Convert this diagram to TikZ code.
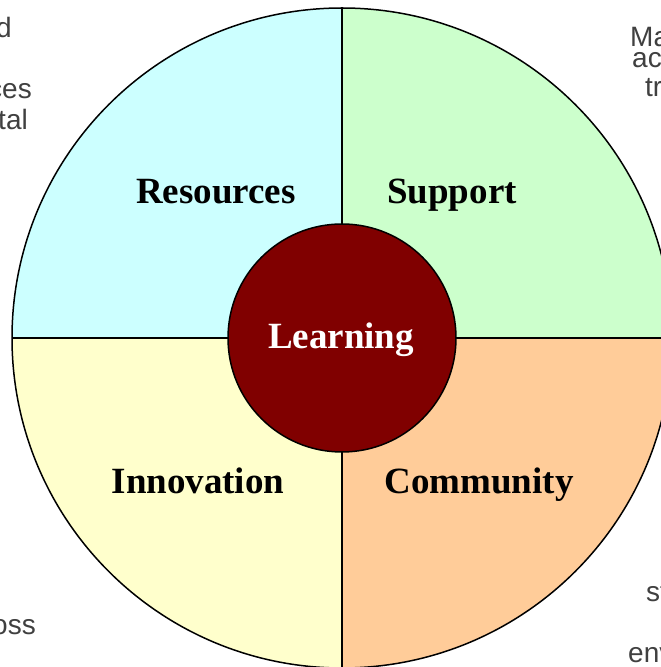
\documentclass[tikz,border=0pt]{standalone}
\usepackage{fontspec}
\setmainfont{Liberation Serif}
\newfontfamily\notefont{Liberation Sans}
\definecolor{resc}{HTML}{CCFFFF}
\definecolor{supc}{HTML}{CCFFCC}
\definecolor{innc}{HTML}{FFFFCC}
\definecolor{comc}{HTML}{FFCC99}
\definecolor{lrnc}{HTML}{800000}
\definecolor{notec}{HTML}{404040}
\begin{document}
\begin{tikzpicture}[x=1pt,y=1pt,
  sector/.style={draw=black,line width=1.5pt,line join=round},
  lbl/.style={font=\fontsize{37}{40}\selectfont\bfseries,anchor=base,inner sep=0pt},
  note/.style={font=\notefont\fontsize{28}{30}\selectfont,text=notec,inner sep=0pt},
]
\useasboundingbox (0,0) rectangle (661,667);
\clip (0,0) rectangle (661,667);
\coordinate (c) at (342,329);
\fill[resc] (c) -- ++(0,330) arc[start angle=90,end angle=180,radius=330] -- cycle;
\fill[supc] (c) -- ++(330,0) arc[start angle=0,end angle=90,radius=330] -- cycle;
\fill[innc] (c) -- ++(-330,0) arc[start angle=180,end angle=270,radius=330] -- cycle;
\fill[comc] (c) -- ++(0,-330) arc[start angle=270,end angle=360,radius=330] -- cycle;
\draw[sector] (c) circle[radius=330];
\draw[sector] (c) ++(0,330) -- ++(0,-660);
\draw[sector] (c) ++(-330,0) -- ++(660,0);
\node[circle,draw=black,line width=1.5pt,fill=lrnc,minimum size=228pt,inner sep=0pt] (lrn) at (c) {};
\node[lbl,text=white] (lrnt) at (341,318) {Learning};
\node[lbl] (res) at (216,463) {Resources};
\node[lbl] (sup) at (452,463) {Support};
\node[lbl] (inn) at (198,173) {Innovation};
\node[lbl] (com) at (479,173) {Community};
% cut-off margin notes
\node[note,anchor=base east] (n1) at (12,629) {d};
\node[note,anchor=base east] (n2) at (32,568) {ces};
\node[note,anchor=base east] (n3) at (28,537) {tal};
\node[note,anchor=base west] (n4) at (630,620) {Ma};
\node[note,anchor=base west] (n5) at (632,599) {ac};
\node[note,anchor=base west] (n6) at (645,570) {tr};
\node[note,anchor=base east] (n7) at (36,32) {oss};
\node[note,anchor=base west] (n8) at (646,65) {st};
\node[note,anchor=base west] (n9) at (628,5) {env};
\end{tikzpicture}
\end{document}
